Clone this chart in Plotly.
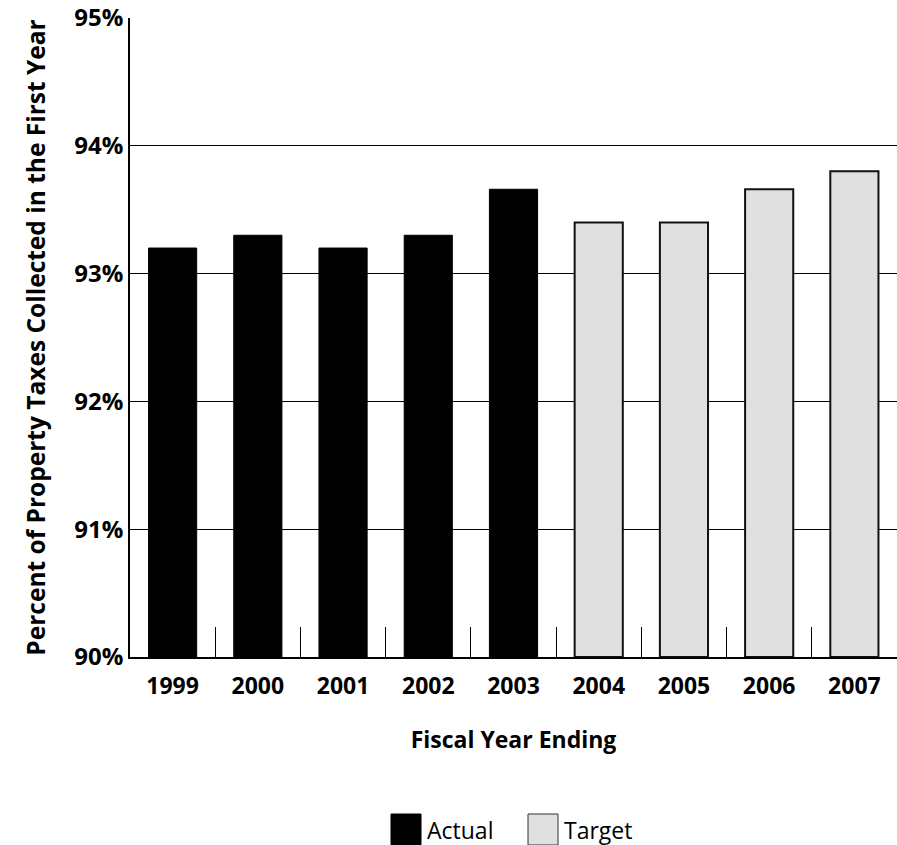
import plotly.graph_objects as go

years = ["1999", "2000", "2001", "2002", "2003", "2004", "2005", "2006", "2007"]
actual_years = ["1999", "2000", "2001", "2002", "2003"]
actual_values = [93.2, 93.3, 93.2, 93.3, 93.66]
target_years = ["2004", "2005", "2006", "2007"]
target_values = [93.4, 93.4, 93.66, 93.8]
y_ticks = [90, 91, 92, 93, 94, 95]
y_tick_labels = ["90%", "91%", "92%", "93%", "94%", "95%"]

FONT = "Open Sans"

fig = go.Figure()
fig.add_trace(go.Bar(
    x=actual_years, y=[v - 90 for v in actual_values], base=90,
    name="Actual", marker=dict(color="#000000", line=dict(color="#000000", width=1)),
    showlegend=False,
))
fig.add_trace(go.Bar(
    x=target_years, y=[v - 90 for v in target_values], base=90,
    name="Target", marker=dict(color="#e0e0e0", line=dict(color="#111111", width=2)),
    showlegend=False,
))

# legend drawn as shapes + annotations (large square swatches)
legend_items = [("Actual", "#000000", "#000000"), ("Target", "#e0e0e0", "#333333")]
sw_x = [391, 528]
for (label, fill, line), x0 in zip(legend_items, sw_x):
    fig.add_shape(type="rect", xref="paper", yref="paper",
                  x0=(x0 - 130) / 767, x1=(x0 + 30 - 130) / 767,
                  y0=(657 - 845) / 639, y1=(657 - 814) / 639,
                  fillcolor=fill, line=dict(color=line, width=1))
    fig.add_annotation(xref="paper", yref="paper",
                       x=(x0 + 34 - 130) / 767, y=(657 - 830) / 639,
                       xanchor="left", yanchor="middle", showarrow=False,
                       text=label, font=dict(family=FONT, size=23, color="#000"))

fig.update_layout(
    width=897, height=845,
    margin=dict(l=130, r=0, t=18, b=188),
    paper_bgcolor="white", plot_bgcolor="white",
    barmode="overlay", bargap=0.435,
    font=dict(family=FONT, color="#000"),
    xaxis=dict(
        categoryorder="array", categoryarray=years,
        showgrid=False, showline=True, linecolor="#000", linewidth=1.5,
        ticks="inside", tickson="boundaries", ticklen=30, tickcolor="#000", tickwidth=1,
        tickfont=dict(family=FONT, size=23, weight="bold"), ticklabelstandoff=8,
        title=dict(text="Fiscal Year Ending", font=dict(family=FONT, size=23, weight="bold"), standoff=32),
    ),
    yaxis=dict(
        range=[90, 95], tickvals=y_ticks, ticktext=y_tick_labels,
        showgrid=True, gridcolor="#000", gridwidth=1,
        showline=True, linecolor="#000", linewidth=1.5,
        ticks="", tickfont=dict(family=FONT, size=24, weight="bold"),
        title=dict(text="Percent of Property Taxes Collected in the First Year",
                   font=dict(family=FONT, size=24.5, weight="bold"), standoff=22),
    ),
)

fig.write_html("out.html")
